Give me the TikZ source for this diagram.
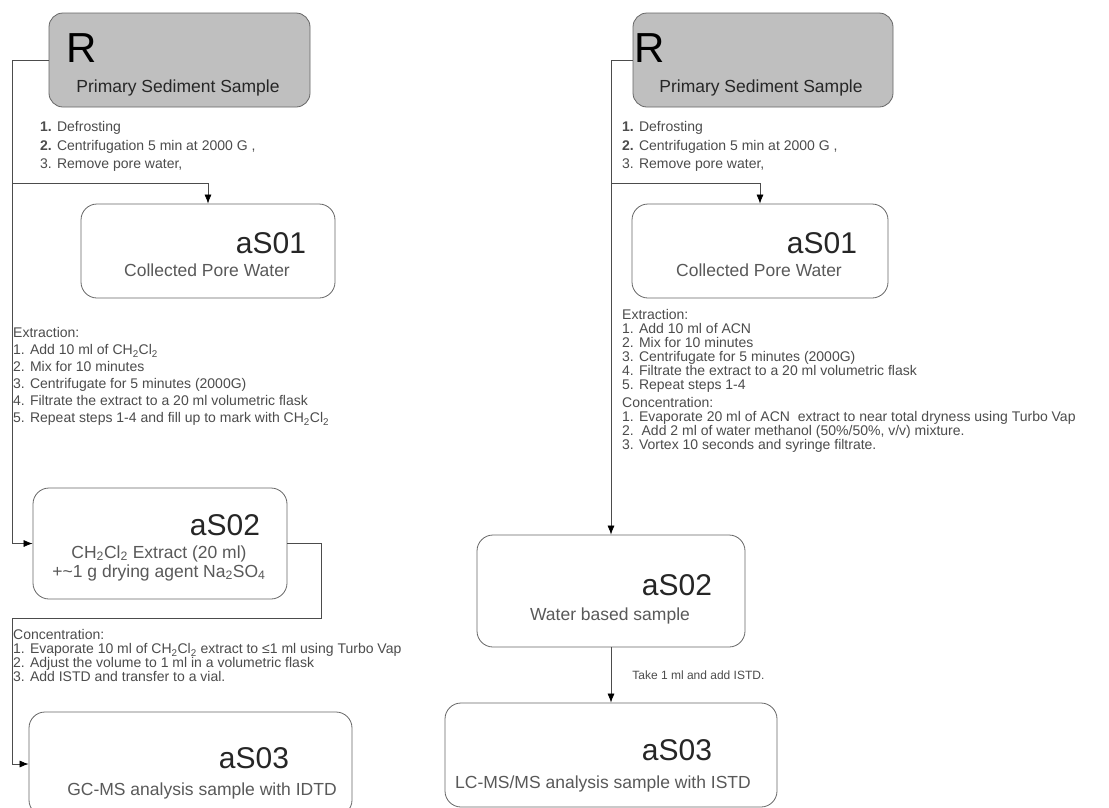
\documentclass[tikz,border=0pt]{standalone}
\usepackage{fontspec}
\setmainfont{Liberation Sans}
\usetikzlibrary{arrows.meta}
\tikzstyle{rawbox} = [rectangle, rounded corners=14pt, draw=black!60, fill=black!25, line width=0.8pt]
\tikzstyle{sample} = [rectangle, rounded corners=16pt, draw=black!60, fill=white, line width=0.8pt]
\tikzstyle{rawid} = [inner sep=0pt, font=\fontsize{42}{42}\selectfont]
\tikzstyle{sid} = [inner sep=0pt, anchor=base, text=black!85, font=\fontsize{30}{30}\selectfont]
\tikzstyle{sname} = [inner sep=0pt, anchor=base, text=black!65, align=center, font=\fontsize{17.5}{19}\selectfont]
\tikzstyle{steps} = [inner sep=0pt, anchor=north west, text=black!70, align=left, font=\fontsize{14}{14}\selectfont]
\tikzstyle{arrow} = [draw=black!70, line width=0.7pt, -{Latex[length=9pt,width=7pt,black]}]

\begin{document}
\begin{tikzpicture}[x=1pt, y=-1pt]
    \useasboundingbox (0,0) rectangle (1109,807);
    \fill[white] (0,0) rectangle (1109,807);
    \clip (0,0) rectangle (1109,807);

    % Place nodes: GC-MS branch
    \node (rawL) [rawbox, minimum width=261pt, minimum height=94pt] at (179.5,60) {};
    \node (rawLid) [rawid] at (82,48) {R};
    \node (rawLname) [sname, text=black!85] at (178,92) {Primary Sediment Sample};
    \node (prepL) [steps, font=\fontsize{14}{18.5}\selectfont] at (40,121.5) {\textbf{1.} Defrosting\\ \textbf{2.} Centrifugation 5 min at 2000 G ,\\ 3. Remove pore water,};

    \node (s1L) [sample, minimum width=254pt, minimum height=94pt] at (208,251) {};
    \node (s1Lid) [sid] at (271,253) {aS01};
    \node (s1Lname) [sname] at (207,276) {Collected Pore Water};

    \node (extrL) [steps, font=\fontsize{14}{17}\selectfont] at (13,327.5) {Extraction:\\ 1. Add 10 ml of CH\textsubscript{2}Cl\textsubscript{2}\\ 2. Mix for 10 minutes\\ 3. Centrifugate for 5 minutes (2000G)\\ 4. Filtrate the extract to a 20 ml volumetric flask\\ 5. Repeat steps 1-4 and fill up to mark with CH\textsubscript{2}Cl\textsubscript{2}};

    \node (s2L) [sample, minimum width=254pt, minimum height=111pt] at (160,543.5) {};
    \node (s2Lid) [sid] at (225,535) {aS02};
    \node (s2Lname) [sname, anchor=center] at (159,563) {CH\textsubscript{2}Cl\textsubscript{2} Extract (20 ml)\\ +\textasciitilde1 g drying agent Na\textsubscript{2}SO\textsubscript{4}};

    \node (concL) [steps] at (13,629.5) {Concentration:\\ 1. Evaporate 10 ml of CH\textsubscript{2}Cl\textsubscript{2} extract to ≤1 ml using Turbo Vap\\ 2. Adjust the volume to 1 ml in a volumetric flask\\ 3. Add ISTD and transfer to a vial.};

    \node (s3L) [sample, minimum width=323pt, minimum height=104pt] at (190.5,764) {};
    \node (s3Lid) [sid] at (254,768) {aS03};
    \node (s3Lname) [sname] at (202,795) {GC-MS analysis sample with IDTD};

    % Place nodes: LC-MS/MS branch
    \node (rawR) [rawbox, minimum width=260pt, minimum height=94pt] at (763,60) {};
    \node (rawRid) [rawid] at (650,48) {R};
    \node (rawRname) [sname, text=black!85] at (761,92) {Primary Sediment Sample};
    \node (prepR) [steps, font=\fontsize{14}{18.5}\selectfont] at (622,121.5) {\textbf{1.} Defrosting\\ \textbf{2.} Centrifugation 5 min at 2000 G ,\\ 3. Remove pore water,};

    \node (s1R) [sample, minimum width=256pt, minimum height=94pt] at (760,251) {};
    \node (s1Rid) [sid] at (822,253) {aS01};
    \node (s1Rname) [sname] at (759,276) {Collected Pore Water};

    \node (extrR) [steps] at (622,309.5) {Extraction:\\ 1. Add 10 ml of ACN\\ 2. Mix for 10 minutes\\ 3. Centrifugate for 5 minutes (2000G)\\ 4. Filtrate the extract to a 20 ml volumetric flask\\ 5. Repeat steps 1-4};
    \node (concR) [steps] at (622,397.5) {Concentration:\\ 1. Evaporate 20 ml of ACN\ \ extract to near total dryness using Turbo Vap\\ 2.\ \ Add 2 ml of water methanol (50\%/50\%, v/v) mixture.\\ 3. Vortex 10 seconds and syringe filtrate.};

    \node (s2R) [sample, minimum width=268pt, minimum height=112pt] at (611,591) {};
    \node (s2Rid) [sid] at (677,595) {aS02};
    \node (s2Rname) [sname] at (610,620) {Water based sample};

    \node (s3R) [sample, minimum width=332pt, minimum height=104pt] at (611,755) {};
    \node (s3Rid) [sid] at (677,760) {aS03};
    \node (s3Rname) [sname] at (603,788) {LC-MS/MS analysis sample with ISTD};

    % Bend points
    \coordinate (splitL) at (12,183);
    \coordinate (turnA) at (321,618);
    \coordinate (turnB) at (12,618);
    \coordinate (splitR) at (611,183);

    % Connect nodes with arrows
    \draw [arrow] (rawL.west) -| (splitL) -| (s1L.north);
    \draw [arrow] (splitL) |- (s2L.west);
    \draw [arrow] (s2L.east) -| (turnA) -- (turnB) |- (s3L.west);
    \draw [arrow] (rawR.west) -| (splitR) -| (s1R.north);
    \draw [arrow] (splitR) -- (s2R.north);
    \draw [arrow] (s2R.south) -- node (istd) [steps, anchor=west, xshift=21pt, font=\fontsize{12}{12}\selectfont] {Take 1 ml and add ISTD.} (s3R.north);
\end{tikzpicture}
\end{document}
